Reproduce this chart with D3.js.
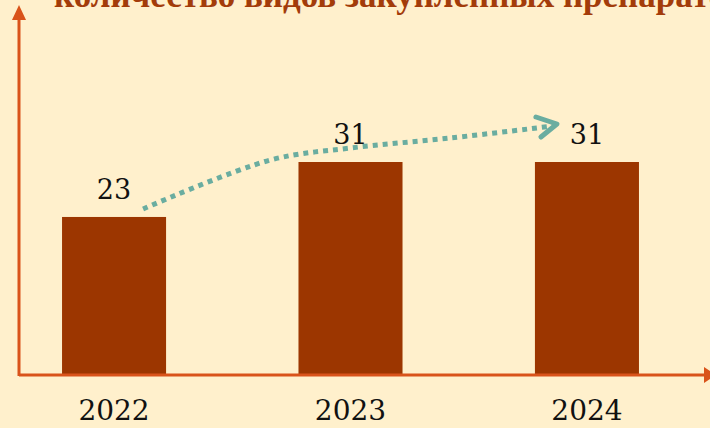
<!DOCTYPE html>
<html>
<head>
<meta charset="utf-8">
<script src="https://cdn.jsdelivr.net/npm/d3@7"></script>
<style>
  body { margin: 0; background: #fff0cc; }
  svg { display: block; }
</style>
</head>
<body>
<div id="chart"></div>
<script>
var title = "количество видов закупленных препаратов";
var years = ["2022", "2023", "2024"];
var counts = [23, 31, 31];

var width = 710, height = 428;
var margin = {left: 19, bottom: 53};
var axisY = height - margin.bottom;

var svg = d3.select("#chart").append("svg")
    .attr("width", width)
    .attr("height", height);

svg.append("rect")
    .attr("width", width)
    .attr("height", height)
    .attr("fill", "#fff0cc");

var x = d3.scaleBand()
    .domain(years)
    .range([margin.left, 682])
    .paddingInner(0.56)
    .paddingOuter(0.182);

var y = d3.scaleLinear()
    .domain([0, 31])
    .range([axisY, 162]);

// title, cut off by the top edge as in the original slide
svg.append("text")
    .attr("x", 54)
    .attr("y", 7)
    .attr("fill", "#a33c0a")
    .attr("font-family", "'Liberation Serif', serif")
    .attr("font-weight", "bold")
    .attr("font-size", 35)
    .text(title);

// bars
svg.selectAll(".bar")
    .data(counts)
  .enter().append("rect")
    .attr("class", "bar")
    .attr("x", function(d, i) { return x(years[i]); })
    .attr("y", function(d) { return y(d); })
    .attr("width", x.bandwidth())
    .attr("height", function(d) { return axisY - y(d); })
    .attr("fill", "#9c3600");

// axes
var axisColor = "#d9531a";
svg.append("line")
    .attr("x1", margin.left).attr("x2", margin.left)
    .attr("y1", axisY + 1).attr("y2", 18)
    .attr("stroke", axisColor).attr("stroke-width", 3);
svg.append("path")
    .attr("d", "M" + (margin.left - 7) + ",20L" + margin.left + ",5L" + (margin.left + 7) + ",20Z")
    .attr("fill", axisColor);
svg.append("line")
    .attr("x1", margin.left).attr("x2", 704)
    .attr("y1", axisY).attr("y2", axisY)
    .attr("stroke", axisColor).attr("stroke-width", 3);
svg.append("path")
    .attr("d", "M704," + (axisY - 8) + "L716," + axisY + "L704," + (axisY + 8) + "Z")
    .attr("fill", axisColor);

// value labels
svg.selectAll(".value")
    .data(counts)
  .enter().append("text")
    .attr("class", "value")
    .attr("text-anchor", "middle")
    .attr("x", function(d, i) { return x(years[i]) + x.bandwidth() / 2; })
    .attr("y", function(d) { return y(d) - 18; })
    .attr("font-family", "'DejaVu Serif', serif")
    .attr("font-size", 27)
    .attr("fill", "#111")
    .text(function(d) { return d; });

// year labels
svg.selectAll(".year")
    .data(years)
  .enter().append("text")
    .attr("class", "year")
    .attr("text-anchor", "middle")
    .attr("x", function(d) { return x(d) + x.bandwidth() / 2; })
    .attr("y", 420)
    .attr("font-family", "'DejaVu Serif', serif")
    .attr("font-size", 28)
    .attr("fill", "#111")
    .text(function(d) { return d; });

// dotted trend arrow
var b0 = x(years[0]) + x.bandwidth(), c1 = x(years[1]) + x.bandwidth() / 2, b2 = x(years[2]);
var trend = [
  [b0 - 23, y(counts[0]) - 8],
  [c1 - 80, y(counts[1]) - 2],
  [c1, y(counts[1]) - 14],
  [c1 + 100, y(counts[1]) - 24],
  [b2 + 18, y(counts[2]) - 36]
];
var teal = "#6aada0";
svg.append("path")
    .attr("d", d3.line().curve(d3.curveCatmullRom)(trend))
    .attr("fill", "none")
    .attr("stroke", teal)
    .attr("stroke-width", 5)
    .attr("stroke-dasharray", "5,5");
var tip = [b2 + 22, y(counts[2]) - 38];
svg.append("path")
    .attr("d", "M" + (tip[0] - 21) + "," + (tip[1] - 7) + "L" + tip[0] + "," + tip[1] + "L" + (tip[0] - 16) + "," + (tip[1] + 13))
    .attr("fill", "none")
    .attr("stroke", teal)
    .attr("stroke-width", 5)
    .attr("stroke-linecap", "round")
    .attr("stroke-linejoin", "round");
</script>
</body>
</html>
